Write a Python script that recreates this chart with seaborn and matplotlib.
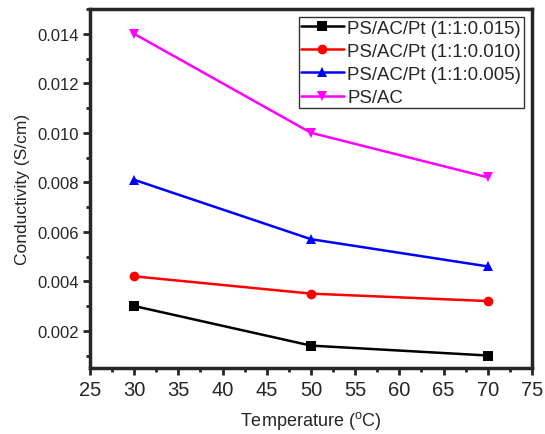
import pandas as pd
import numpy as np
import seaborn as sns
import matplotlib.pyplot as plt
from matplotlib.ticker import MultipleLocator

# Data
temperature = [30, 50, 70]
pt_015 = [0.0030, 0.0014, 0.0010]
pt_010 = [0.0042, 0.0035, 0.0032]
pt_005 = [0.0081, 0.0057, 0.0046]
ps_ac = [0.0140, 0.0100, 0.0082]
names = ["PS/AC/Pt (1:1:0.015)", "PS/AC/Pt (1:1:0.010)", "PS/AC/Pt (1:1:0.005)", "PS/AC"]
colors = ["black", "red", "blue", "magenta"]
markers = ["s", "o", "^", "v"]

rows = []
for name, vals in zip(names, [pt_015, pt_010, pt_005, ps_ac]):
    for t, v in zip(temperature, vals):
        rows.append({"Temperature": t, "Conductivity": v, "Sample": name})
df = pd.DataFrame(rows)

sns.set_style("ticks")
plt.rcParams["font.family"] = ["Liberation Sans", "DejaVu Sans"]

fig, ax = plt.subplots(figsize=(5.45, 4.35), dpi=100)
sns.lineplot(data=df, x="Temperature", y="Conductivity", hue="Sample", style="Sample",
             palette=colors, markers=markers, dashes=False, markersize=7,
             markeredgewidth=0, linewidth=1.8, ax=ax)

ax.set_xlim(25, 75)
ax.set_ylim(0.0005, 0.015)
ax.xaxis.set_major_locator(MultipleLocator(5))
ax.xaxis.set_minor_locator(MultipleLocator(2.5))
ax.yaxis.set_minor_locator(MultipleLocator(0.001))
yt = np.arange(0.002, 0.0141, 0.002)
ax.set_yticks(yt)
ax.set_yticklabels([f"{v:.3f}" for v in yt])
ax.tick_params(axis="both", which="major", direction="out", length=5, width=2)
ax.tick_params(axis="x", which="major", labelsize=14.5, pad=4)
ax.tick_params(axis="y", which="major", labelsize=12, pad=3)
ax.tick_params(axis="both", which="minor", direction="out", length=3, width=2)
for s in ax.spines.values():
    s.set_linewidth(2.5)

ax.set_xlabel("Temperature ($^\\mathregular{o}$C)", fontsize=13, labelpad=7)
ax.set_ylabel("Conductivity (S/cm)", fontsize=12.5, labelpad=5)

leg = ax.legend(loc="upper right", fontsize=13.4, frameon=True, fancybox=False,
                edgecolor="black", handlelength=2.3, borderpad=0.12, labelspacing=0.33,
                handletextpad=0.2, borderaxespad=0.45)
leg.get_frame().set_linewidth(1)

fig.subplots_adjust(left=0.165, right=0.976, top=0.977, bottom=0.152)
fig.savefig("out.png", dpi=100)
